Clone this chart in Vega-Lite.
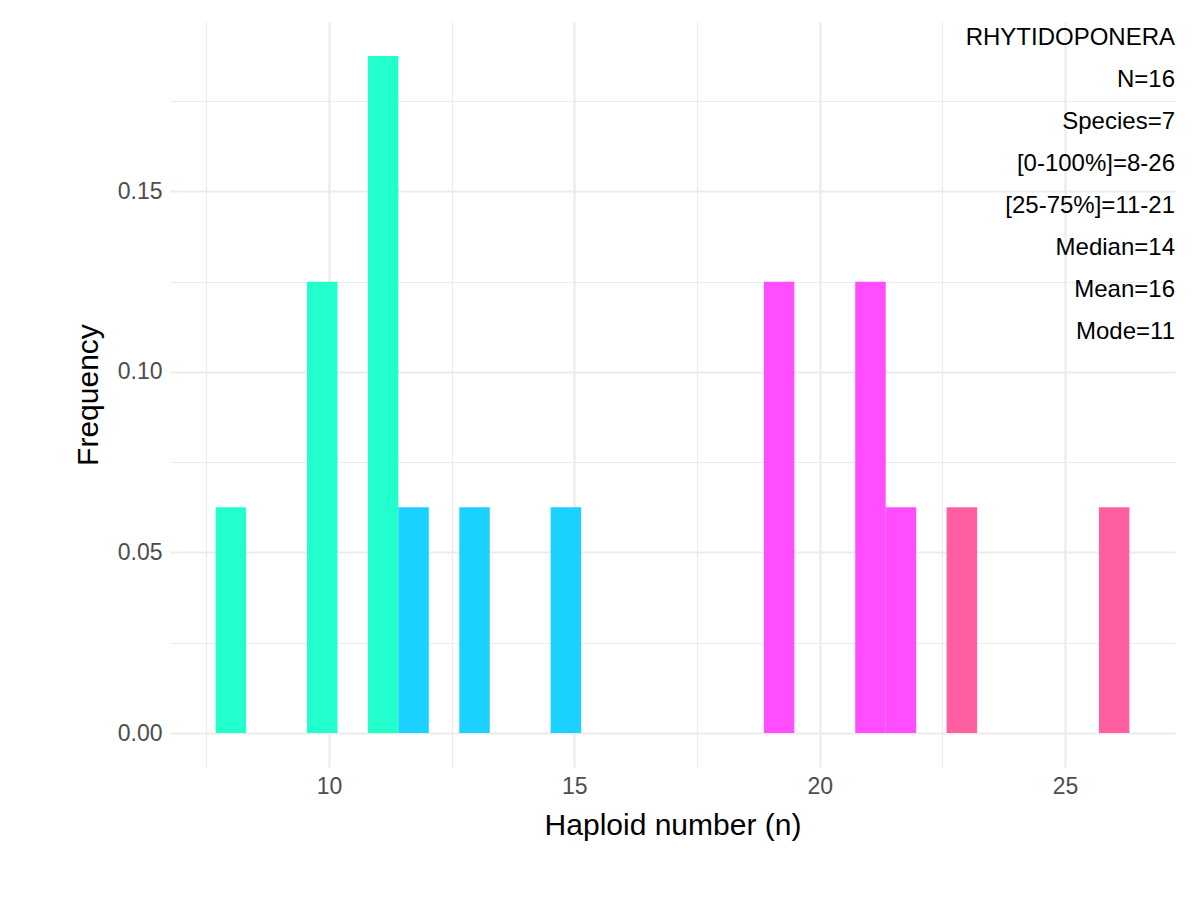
{
  "$schema": "https://vega.github.io/schema/vega-lite/v6.json",
  "width": 1005,
  "height": 745,
  "autosize": {"type": "none"},
  "padding": {"left": 170, "top": 22, "right": 24, "bottom": 132},
  "background": "white",
  "config": {
    "view": {"stroke": null},
    "font": "Liberation Sans"
  },
  "layer": [
    {
      "data": {"values": [
        {"x0": 7.690, "x1": 8.310, "freq": 0.0625, "group": "a"},
        {"x0": 9.552, "x1": 10.172, "freq": 0.125, "group": "a"},
        {"x0": 10.793, "x1": 11.414, "freq": 0.1875, "group": "a"},
        {"x0": 11.414, "x1": 12.034, "freq": 0.0625, "group": "b"},
        {"x0": 12.655, "x1": 13.276, "freq": 0.0625, "group": "b"},
        {"x0": 14.517, "x1": 15.138, "freq": 0.0625, "group": "b"},
        {"x0": 18.862, "x1": 19.483, "freq": 0.125, "group": "c"},
        {"x0": 20.724, "x1": 21.345, "freq": 0.125, "group": "c"},
        {"x0": 21.345, "x1": 21.966, "freq": 0.0625, "group": "c"},
        {"x0": 22.586, "x1": 23.207, "freq": 0.0625, "group": "d"},
        {"x0": 25.690, "x1": 26.310, "freq": 0.0625, "group": "d"}
      ]},
      "mark": {"type": "rect"},
      "encoding": {
        "x": {
          "field": "x0", "type": "quantitative",
          "scale": {"domain": [6.76, 27.24], "nice": false, "zero": false},
          "title": "Haploid number (n)",
          "axis": {
            "values": [7.5, 10, 12.5, 15, 17.5, 20, 22.5, 25],
            "labelExpr": "datum.value % 5 === 0 ? datum.label : ''",
            "ticks": false, "domain": false,
            "gridColor": "#EBEBEB",
            "gridWidth": {"condition": {"test": "datum.value % 5 === 0", "value": 2.2}, "value": 1.1},
            "labelFontSize": 23, "labelColor": "#4D4D4D", "labelPadding": 8,
            "titleFontSize": 30, "titleFontWeight": "normal", "titleColor": "black", "titlePadding": 12
          }
        },
        "x2": {"field": "x1"},
        "y": {
          "field": "freq", "type": "quantitative",
          "scale": {"domain": [-0.0094, 0.1969], "nice": false, "zero": false},
          "title": "Frequency",
          "axis": {
            "values": [0, 0.025, 0.05, 0.075, 0.1, 0.125, 0.15, 0.175],
            "labelExpr": "(round(datum.value*1000) % 50 === 0) ? format(datum.value, '.2f') : ''",
            "ticks": false, "domain": false,
            "gridColor": "#EBEBEB",
            "gridWidth": {"condition": {"test": "round(datum.value*1000) % 50 === 0", "value": 2.2}, "value": 1.1},
            "labelFontSize": 23, "labelColor": "#4D4D4D", "labelPadding": 8,
            "titleFontSize": 30, "titleFontWeight": "normal", "titleColor": "black", "titlePadding": 14
          }
        },
        "y2": {"datum": 0},
        "color": {
          "field": "group", "type": "nominal", "legend": null,
          "scale": {"domain": ["a", "b", "c", "d"], "range": ["#22FFCC", "#1AD1FF", "#FF4DFF", "#FF5EA0"]}
        }
      }
    },
    {
      "data": {"values": [
        {"label": "RHYTIDOPONERA", "y": 0.1925},
        {"label": "N=16", "y": 0.1809},
        {"label": "Species=7", "y": 0.1693},
        {"label": "[0-100%]=8-26", "y": 0.1576},
        {"label": "[25-75%]=11-21", "y": 0.1460},
        {"label": "Median=14", "y": 0.1344},
        {"label": "Mean=16", "y": 0.1227},
        {"label": "Mode=11", "y": 0.1111}
      ]},
      "mark": {"type": "text", "align": "right", "baseline": "middle", "fontSize": 24, "color": "black"},
      "encoding": {
        "x": {"datum": 27.24, "type": "quantitative"},
        "y": {"field": "y", "type": "quantitative"},
        "text": {"field": "label"}
      }
    }
  ]
}
